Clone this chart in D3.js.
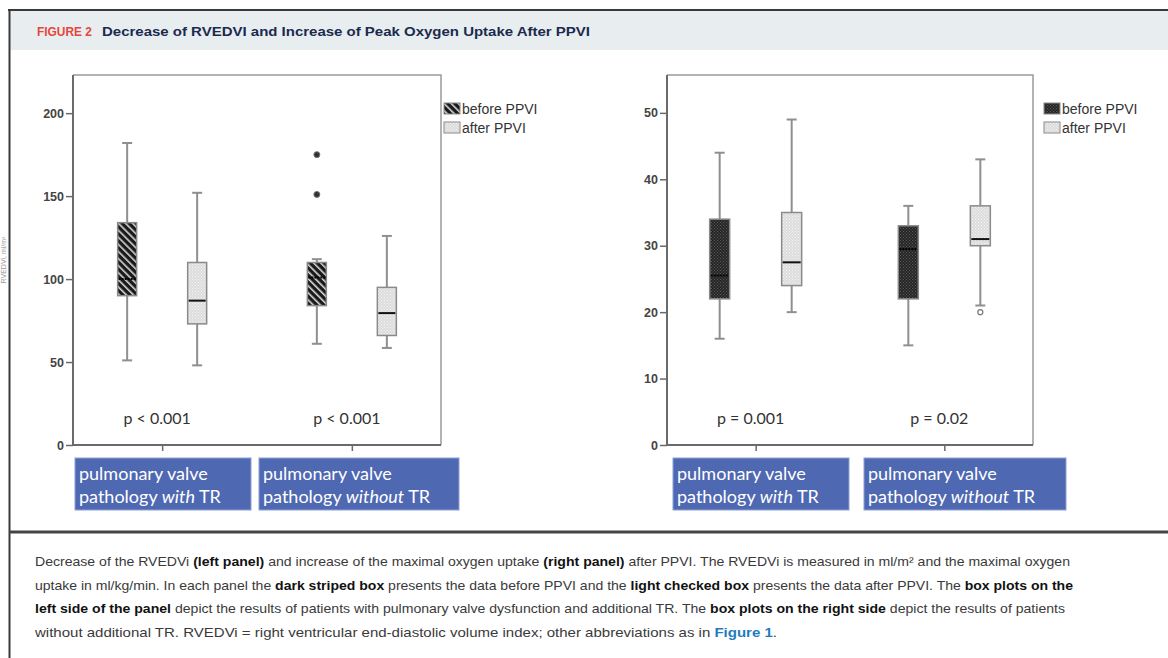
<!DOCTYPE html>
<html>
<head>
<meta charset="utf-8">
<script src="https://cdn.jsdelivr.net/npm/d3@7"></script>
<style>
html,body{margin:0;padding:0;background:#fff;}
svg{display:block;}
</style>
</head>
<body>
<svg id="chart" width="1168" height="658"></svg>
<script>
// ---------- data ----------
const groups = ["with TR", "without TR"];
const series = ["before PPVI", "after PPVI"];
// [lower whisker, Q1, median, Q3, upper whisker]
const rvedviBefore = [[51, 90, 100, 134, 182], [61, 84, 101, 110, 112]];
const rvedviAfter  = [[48, 73, 87, 110, 152], [58.5, 66, 79.5, 95, 126]];
const rvedviOutliersBefore = [[], [175, 151]];
const rvedviOutliersAfter  = [[], []];
const vo2Before = [[16, 22, 25.5, 34, 44], [15, 22, 29.5, 33, 36]];
const vo2After  = [[20, 24, 27.5, 35, 49], [21, 30, 31, 36, 43]];
const vo2OutliersBefore = [[], []];
const vo2OutliersAfter  = [[], [20]];
const rvedviTicks = [0, 50, 100, 150, 200];
const vo2Ticks = [0, 10, 20, 30, 40, 50];
const rvedviP = ["p < 0.001", "p < 0.001"];
const vo2P = ["p = 0.001", "p = 0.02"];
const categoryLines = [["pulmonary valve", "pathology ", "with", " TR"], ["pulmonary valve", "pathology ", "without", " TR"]];

const svg = d3.select("#chart");
const defs = svg.append("defs");

// patterns
function stripes(id) {
  const p = defs.append("pattern").attr("id", id).attr("patternUnits", "userSpaceOnUse")
    .attr("width", 5).attr("height", 5).attr("patternTransform", "rotate(-45)");
  p.append("rect").attr("width", 5).attr("height", 5).attr("fill", "#1a1a1a");
  p.append("rect").attr("x", 0).attr("width", 1.6).attr("height", 5).attr("fill", "#d8d8d8");
}
function checks(id, bg, dot) {
  const p = defs.append("pattern").attr("id", id).attr("patternUnits", "userSpaceOnUse")
    .attr("width", 3).attr("height", 3);
  p.append("rect").attr("width", 3).attr("height", 3).attr("fill", bg);
  p.append("rect").attr("x", 0).attr("y", 0).attr("width", 1).attr("height", 1).attr("fill", dot);
  p.append("rect").attr("x", 1.5).attr("y", 1.5).attr("width", 1).attr("height", 1).attr("fill", dot);
}
stripes("darkStripe");
checks("lightCheck", "#dcdcdc", "#f4f4f4");
checks("darkCheck", "#262626", "#5a5a5a");

// ---------- frame ----------
svg.append("rect").attr("x", 10).attr("y", 11).attr("width", 1158).attr("height", 39).attr("fill", "#e8eef0");
svg.append("line").attr("x1", 8).attr("x2", 1168).attr("y1", 10).attr("y2", 10).attr("stroke", "#3a3a3a").attr("stroke-width", 2);
svg.append("line").attr("x1", 9.5).attr("x2", 9.5).attr("y1", 9).attr("y2", 658).attr("stroke", "#3a3a3a").attr("stroke-width", 2);
svg.append("line").attr("x1", 9).attr("x2", 1168).attr("y1", 532).attr("y2", 532).attr("stroke", "#444").attr("stroke-width", 3);

// title
const title = svg.append("text").attr("y", 36).attr("font-family", "'Liberation Sans Narrow','Liberation Sans',Arial,sans-serif")
  .attr("font-weight", "bold").attr("font-size", 13);
title.append("tspan").attr("x", 37).attr("fill", "#e8453c").attr("textLength", 55).attr("lengthAdjust", "spacingAndGlyphs").text("FIGURE 2");
title.append("tspan").attr("x", 102).attr("fill", "#1b2a4e").attr("textLength", 488).attr("lengthAdjust", "spacingAndGlyphs")
  .text("Decrease of RVEDVI and Increase of Peak Oxygen Uptake After PPVI");

// small rotated y label at far left
svg.append("text").attr("transform", "translate(6,260) rotate(-90)").attr("text-anchor", "middle")
  .attr("font-family", "Arial, sans-serif").attr("font-size", 7).attr("fill", "#999").text("RVEDVi, ml/m²");

// ---------- panels ----------
const panels = [
  { x0: 73, x1: 441, top: 75, bottom: 445, yMax: 223, ticks: rvedviTicks,
    before: rvedviBefore, after: rvedviAfter, outB: rvedviOutliersBefore, outA: rvedviOutliersAfter,
    pv: rvedviP, beforeFill: "url(#darkStripe)", beforeMedian: "#000", offset: 35, boxW: 19,
    legendX: 444, labelBoxes: [[75, 251], [259, 459]] },
  { x0: 667, x1: 1033, top: 75, bottom: 445, yMax: 55.7, ticks: vo2Ticks,
    before: vo2Before, after: vo2After, outB: vo2OutliersBefore, outA: vo2OutliersAfter,
    pv: vo2P, beforeFill: "url(#darkCheck)", beforeMedian: "#000", offset: 36, boxW: 20,
    legendX: 1044, labelBoxes: [[673, 849], [864, 1066]] }
];

panels.forEach(P => {
  const g = svg.append("g");
  const y = d3.scaleLinear().domain([0, P.yMax]).range([P.bottom, P.top]);
  const x = d3.scalePoint().domain(groups).range([P.x0, P.x1]).padding(0.47);
  const xs = d3.scalePoint().domain(series).range([-P.offset, P.offset]);

  // frame (top and right)
  g.append("path").attr("d", `M${P.x0},${P.top}H${P.x1}V${P.bottom}`).attr("fill", "none").attr("stroke", "#9a9a9a").attr("stroke-width", 1.5);

  // y axis
  const ya = g.append("g").attr("transform", `translate(${P.x0},0)`)
    .call(d3.axisLeft(y).tickValues(P.ticks).tickSize(7).tickPadding(2).tickFormat(d3.format("d")));
  ya.select(".domain").attr("stroke", "#6a6a6a").attr("stroke-width", 2).attr("d", `M0,${P.top}V${P.bottom}`);
  ya.selectAll(".tick line").attr("stroke", "#6a6a6a").attr("stroke-width", 1.5);
  ya.selectAll(".tick text").attr("font-family", "Arial, sans-serif").attr("font-size", 12.5).attr("font-weight", "bold").attr("fill", "#444");

  // x axis
  const xa = g.append("g").attr("transform", `translate(0,${P.bottom})`)
    .call(d3.axisBottom(x).tickSize(6).tickFormat(""));
  xa.select(".domain").attr("stroke", "#6a6a6a").attr("stroke-width", 2).attr("d", `M${P.x0},0H${P.x1}`);
  xa.selectAll(".tick line").attr("stroke", "#6a6a6a").attr("stroke-width", 1.5);

  // boxes
  const data = [];
  groups.forEach((gr, i) => {
    data.push({ g: gr, s: series[0], v: P.before[i], out: P.outB[i], fill: P.beforeFill, med: P.beforeMedian, dash: "2,1" });
    data.push({ g: gr, s: series[1], v: P.after[i], out: P.outA[i], fill: "url(#lightCheck)", med: "#111", dash: null });
  });
  const cap = 10;
  data.forEach(d => {
    const cx = x(d.g) + xs(d.s);
    const bg = g.append("g");
    bg.append("line").attr("x1", cx).attr("x2", cx).attr("y1", y(d.v[0])).attr("y2", y(d.v[1])).attr("stroke", "#8f8f8f").attr("stroke-width", 2);
    bg.append("line").attr("x1", cx).attr("x2", cx).attr("y1", y(d.v[3])).attr("y2", y(d.v[4])).attr("stroke", "#8f8f8f").attr("stroke-width", 2);
    [d.v[0], d.v[4]].forEach(v => bg.append("line").attr("x1", cx - cap / 2).attr("x2", cx + cap / 2).attr("y1", y(v)).attr("y2", y(v)).attr("stroke", "#8f8f8f").attr("stroke-width", 2));
    bg.append("rect").attr("x", cx - P.boxW / 2).attr("width", P.boxW).attr("y", y(d.v[3])).attr("height", y(d.v[1]) - y(d.v[3]))
      .attr("fill", d.fill).attr("stroke", "#8a8a8a").attr("stroke-width", 1.5);
    const ml = bg.append("line").attr("x1", cx - P.boxW / 2 + 1).attr("x2", cx + P.boxW / 2 - 1).attr("y1", y(d.v[2])).attr("y2", y(d.v[2]))
      .attr("stroke", d.med).attr("stroke-width", 2);
    if (d.dash) ml.attr("stroke-dasharray", d.dash);
    d.out.forEach(o => {
      if (d.s === series[0]) {
        bg.append("circle").attr("cx", cx).attr("cy", y(o)).attr("r", 3).attr("fill", "#333").attr("stroke", "#777").attr("stroke-width", 1);
      } else {
        bg.append("circle").attr("cx", cx).attr("cy", y(o)).attr("r", 2.5).attr("fill", "#fff").attr("stroke", "#777").attr("stroke-width", 1.2);
      }
    });
  });

  // p values
  groups.forEach((gr, i) => {
    g.append("text").attr("x", x(gr) - 5).attr("y", 424).attr("text-anchor", "middle")
      .attr("font-family", "Lato, 'Open Sans', sans-serif").attr("font-size", 16).attr("fill", "#333").text(P.pv[i]);
  });

  // legend
  const lg = g.append("g");
  [[series[0], P.beforeFill, 103], [series[1], "url(#lightCheck)", 122]].forEach(([label, fill, ly]) => {
    lg.append("rect").attr("x", P.legendX).attr("y", ly).attr("width", 16).attr("height", 11).attr("fill", fill).attr("stroke", "#8a8a8a").attr("stroke-width", 1);
    lg.append("text").attr("x", P.legendX + 18).attr("y", ly + 11).attr("font-family", "Arial, sans-serif").attr("font-size", 14).attr("fill", "#333").text(label);
  });

  // category label boxes
  P.labelBoxes.forEach((b, i) => {
    g.append("rect").attr("x", b[0]).attr("y", 458).attr("width", b[1] - b[0]).attr("height", 52).attr("fill", "#4f68b2").attr("stroke", "#8ea0d4").attr("stroke-width", 1);
    const L = categoryLines[i];
    g.append("text").attr("x", b[0] + 4).attr("y", 480).attr("font-family", "Lato, sans-serif").attr("font-size", 18).attr("fill", "#fff").text(L[0]);
    const t2 = g.append("text").attr("x", b[0] + 4).attr("y", 503).attr("font-family", "Lato, sans-serif").attr("font-size", 18).attr("fill", "#fff");
    t2.append("tspan").text(L[1]);
    t2.append("tspan").attr("font-style", "italic").text(L[2]);
    t2.append("tspan").text(L[3]);
  });
});

// ---------- caption ----------
const captionLines = [
  { y: 566, w: 1035, parts: [["Decrease of the RVEDVi ", 0], ["(left panel)", 1], [" and increase of the maximal oxygen uptake ", 0], ["(right panel)", 1], [" after PPVI. The RVEDVi is measured in ml/m² and the maximal oxygen", 0]] },
  { y: 590, w: 1038, parts: [["uptake in ml/kg/min. In each panel the ", 0], ["dark striped box", 1], [" presents the data before PPVI and the ", 0], ["light checked box", 1], [" presents the data after PPVI. The ", 0], ["box plots on the", 1]] },
  { y: 613, w: 1030, parts: [["left side of the panel", 1], [" depict the results of patients with pulmonary valve dysfunction and additional TR. The ", 0], ["box plots on the right side", 1], [" depict the results of patients", 0]] },
  { y: 637, w: 742, parts: [["without additional TR. RVEDVi = right ventricular end-diastolic volume index; other abbreviations as in ", 0], ["Figure 1", 2], [".", 0]] }
];
captionLines.forEach(l => {
  const t = svg.append("text").attr("x", 35).attr("y", l.y).attr("font-family", "'Liberation Sans Narrow','Liberation Sans',Arial,sans-serif")
    .attr("font-size", 13).attr("fill", "#3a3a3a").attr("textLength", l.w).attr("lengthAdjust", "spacingAndGlyphs");
  l.parts.forEach(([s, k]) => {
    const ts = t.append("tspan").text(s);
    if (k === 1) ts.attr("font-weight", "bold").attr("fill", "#111");
    if (k === 2) ts.attr("font-weight", "bold").attr("fill", "#1f7bbf");
  });
});
</script>
</body>
</html>
